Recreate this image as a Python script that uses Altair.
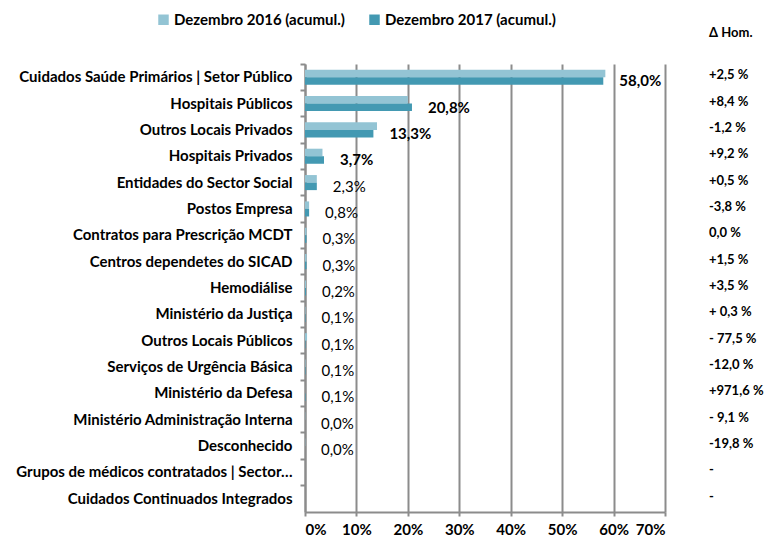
import altair as alt
import pandas as pd

categories = [
    "Cuidados Saúde Primários | Setor Público",
    "Hospitais Públicos",
    "Outros Locais Privados",
    "Hospitais Privados",
    "Entidades do Sector Social",
    "Postos Empresa",
    "Contratos para Prescrição MCDT",
    "Centros dependetes do SICAD",
    "Hemodiálise",
    "Ministério da Justiça",
    "Outros Locais Públicos",
    "Serviços de Urgência Básica",
    "Ministério da Defesa",
    "Ministério Administração Interna",
    "Desconhecido",
    "Grupos de médicos contratados | Sector…",
    "Cuidados Continuados Integrados",
]
dez2016 = [58.4, 20.0, 14.0, 3.4, 2.3, 0.8, 0.3, 0.3, 0.2, 0.1, 0.4, 0.1, 0.01, 0.05, 0.05, 0.0, 0.0]
dez2017 = [58.0, 20.8, 13.3, 3.7, 2.3, 0.8, 0.3, 0.3, 0.2, 0.1, 0.1, 0.1, 0.1, 0.0, 0.0, 0.0, 0.0]
value_labels = ["58,0%", "20,8%", "13,3%", "3,7%", "2,3%", "0,8%", "0,3%", "0,3%", "0,2%",
                "0,1%", "0,1%", "0,1%", "0,1%", "0,0%", "0,0%", "", ""]
label_bold = [True, True, True, True] + [False] * 13
delta_hom = ["+2,5 %", "+8,4 %", "\u00a0-1,2 %", "+9,2 %", "+0,5 %", "-3,8 %", "\u00a00,0 %",
             "+1,5 %", "+3,5 %", "+ 0,3 %", "- 77,5 %", "-12,0 %", "+971,6 %", "- 9,1 %",
             "-19,8 %", "-", "-"]
series = ["Dezembro 2016 (acumul.)", "Dezembro 2017 (acumul.)"]
x_ticks = [0, 10, 20, 30, 40, 50, 60, 70]

FONT = "Lato"
FS = 15
DFS = 13
GRAY = "#8c8c8c"

rows = []
for c, a, b in zip(categories, dez2016, dez2017):
    rows.append({"cat": c, "serie": series[0], "v": a})
    rows.append({"cat": c, "serie": series[1], "v": b})
bars_df = pd.DataFrame(rows)

lab_df = pd.DataFrame({
    "cat": categories, "v": dez2017, "lab": value_labels,
    "bold": label_bold, "delta": delta_hom,
})

yscale = alt.Scale(domain=categories, paddingInner=0, paddingOuter=0)
xscale = alt.Scale(domain=[0, 70], nice=False)

bars = alt.Chart(bars_df).mark_bar().encode(
    y=alt.Y("cat:N", scale=yscale, sort=categories, title=None,
            axis=alt.Axis(ticks=False, labelFont=FONT, labelFontSize=FS,
                          labelFontWeight="bold", labelColor="#000",
                          labelPadding=13, labelLimit=400,
                          domainColor=GRAY, domainWidth=2, grid=False)),
    x=alt.X("v:Q", scale=xscale, title=None,
            axis=alt.Axis(values=x_ticks, labelExpr="datum.value + '%'",
                          labelFont=FONT, labelFontSize=FS, labelFontWeight="bold",
                          labelColor="#000", labelPadding=6,
                          tickColor=GRAY, tickWidth=2, tickSize=4,
                          domainColor=GRAY, domainWidth=2,
                          grid=True, gridColor=GRAY, gridWidth=2)),
    yOffset=alt.YOffset("serie:N", sort=series,
                        scale=alt.Scale(paddingInner=0, paddingOuter=0.75)),
    color=alt.Color("serie:N", sort=series,
                    scale=alt.Scale(domain=series, range=["#93c4d4", "#4399b2"]),
                    legend=alt.Legend(title=None, orient="none", legendX=-149, legendY=-52,
                                      direction="horizontal", columns=2,
                                      symbolType="square", symbolSize=110,
                                      symbolStrokeWidth=0, labelFont=FONT,
                                      labelFontSize=FS, labelFontWeight="bold",
                                      labelColor="#000", labelOffset=3,
                                      labelLimit=300, columnPadding=22)),
)

labels_bold = alt.Chart(lab_df).transform_filter("datum.bold").mark_text(
    align="left", baseline="middle", dx=16, dy=4, font=FONT, fontSize=FS,
    fontWeight="bold", color="#000"
).encode(
    y=alt.Y("cat:N", scale=yscale, sort=categories, title=None,
            axis=alt.Axis(labels=False, ticks=True, bandPosition=0, tickSize=5,
                          tickColor=GRAY, tickWidth=2, domain=False, grid=False,
                          orient="left")),
    x=alt.X("v:Q", scale=xscale),
    text="lab:N",
)

labels_norm = alt.Chart(lab_df).transform_filter("!datum.bold").mark_text(
    align="left", baseline="middle", dx=16, dy=4, font=FONT, fontSize=FS,
    fontWeight="normal", color="#000"
).encode(
    y=alt.Y("cat:N", scale=yscale, sort=categories, axis=None),
    x=alt.X("v:Q", scale=xscale),
    text="lab:N",
)

delta = alt.Chart(lab_df).mark_text(
    align="left", baseline="middle", dy=-2, font=FONT, fontSize=DFS,
    fontWeight="bold", color="#000"
).encode(
    y=alt.Y("cat:N", scale=yscale, sort=categories, axis=None),
    x=alt.value(404),
    text="delta:N",
)

header = alt.Chart(pd.DataFrame({"t": ["Δ Hom."]})).mark_text(
    align="left", baseline="middle", font=FONT, fontSize=DFS,
    fontWeight="bold", color="#000"
).encode(
    x=alt.value(404), y=alt.value(-31), text="t:N"
)

chart = alt.layer(bars, labels_bold, labels_norm, delta, header).resolve_axis(
    y="independent"
).properties(
    width=360, height=448,
    autosize=alt.AutoSizeParams(type="none"),
    padding={"left": 297, "top": 56, "right": 99, "bottom": 24},
).configure_view(stroke=None)

chart.save("out.html", embed_options={"renderer": "svg", "actions": False})
